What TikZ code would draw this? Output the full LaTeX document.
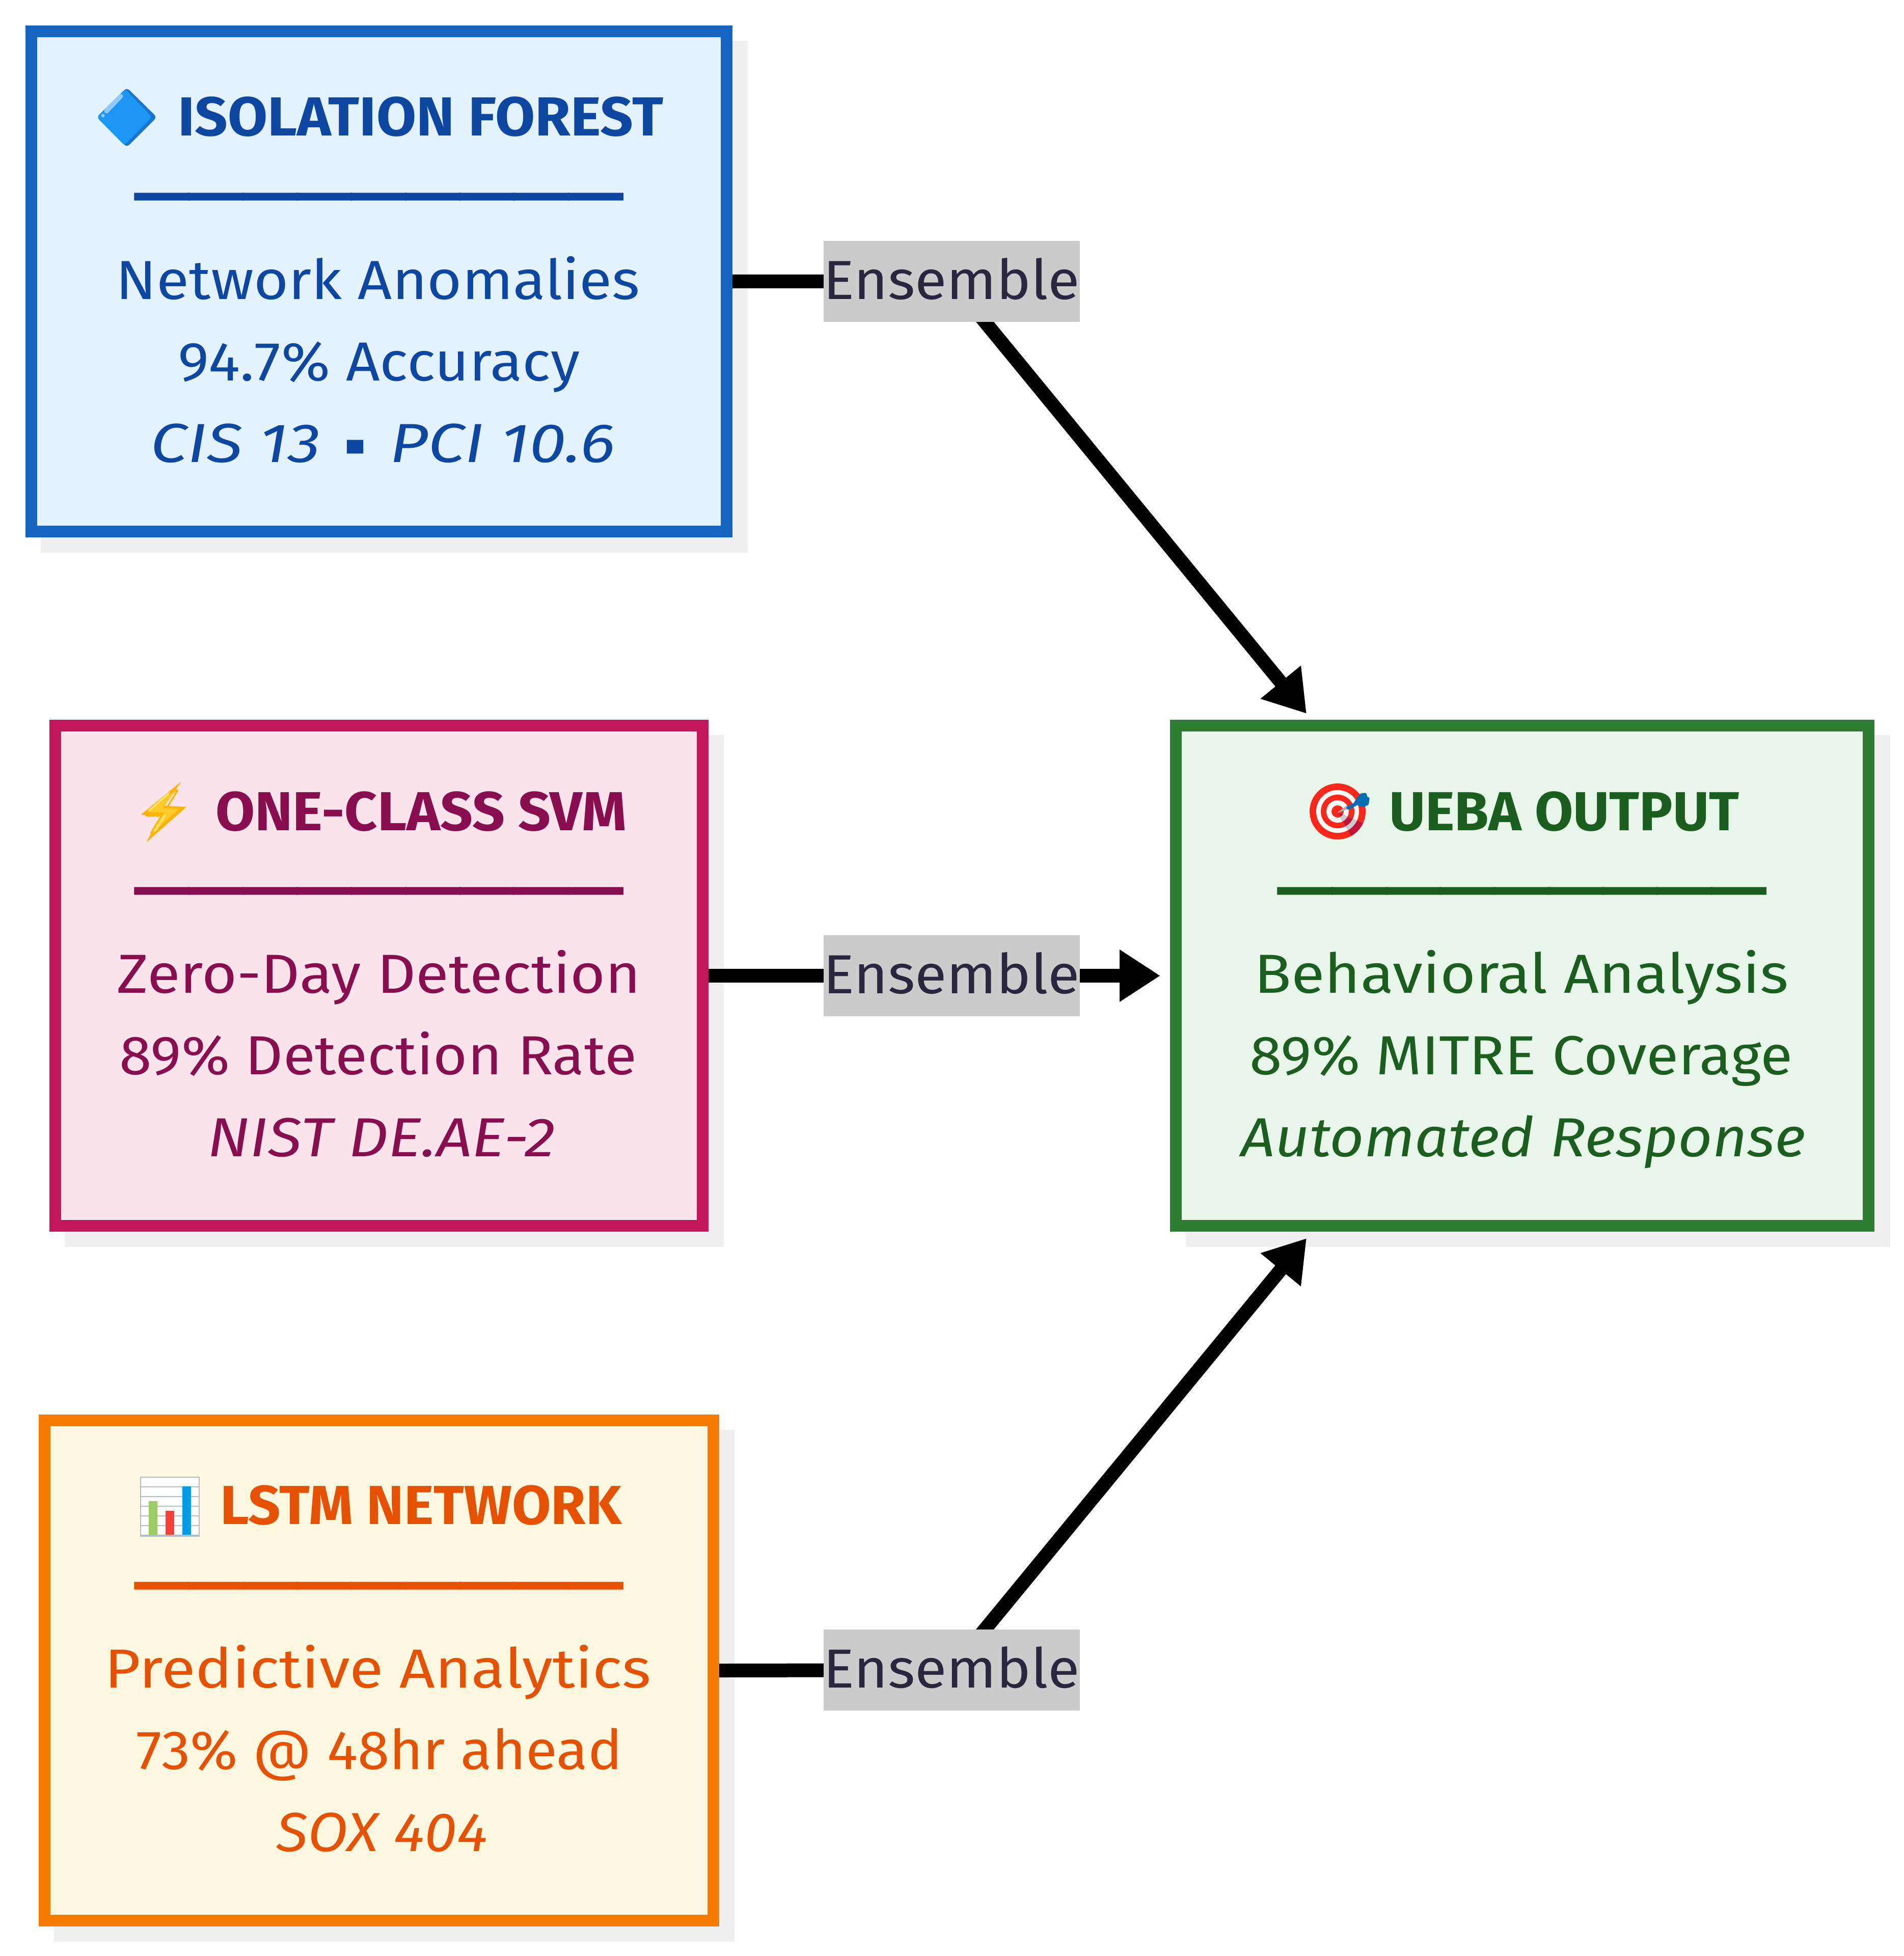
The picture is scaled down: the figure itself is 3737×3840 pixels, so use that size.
\documentclass[tikz,border=0pt]{standalone}
\usepackage{fontspec}
\usepackage{graphicx}
\setmainfont{Fira Sans}
\newfontfamily\emojifont{Noto Emoji}
\newfontfamily\dejafont{DejaVu Sans}
\usetikzlibrary{arrows.meta,backgrounds}
\definecolor{blueS}{HTML}{1565C0}\definecolor{blueF}{HTML}{E3F2FD}\definecolor{blueT}{HTML}{0D47A1}
\definecolor{pinkS}{HTML}{C2185B}\definecolor{pinkF}{HTML}{FCE4EC}\definecolor{pinkT}{HTML}{880E4F}
\definecolor{oranS}{HTML}{F57C00}\definecolor{oranF}{HTML}{FFF8E1}\definecolor{oranT}{HTML}{E65100}
\definecolor{greeS}{HTML}{2E7D32}\definecolor{greeF}{HTML}{E8F5E9}\definecolor{greeT}{HTML}{1B5E20}
\definecolor{shadowC}{HTML}{EFEFEF}\definecolor{labelF}{HTML}{CBCBCB}\definecolor{labelT}{HTML}{2A2640}
\definecolor{diaD}{HTML}{1976D2}\definecolor{diaM}{HTML}{1E96F3}\definecolor{diaL}{HTML}{90CAF9}
\definecolor{boltD}{HTML}{FFB300}\definecolor{boltM}{HTML}{FFCA28}\definecolor{boltL}{HTML}{FFE36B}
\definecolor{gridC}{HTML}{B0BEC5}\definecolor{barG}{HTML}{9CCC65}\definecolor{barR}{HTML}{F44336}\definecolor{barB}{HTML}{039BE5}
\definecolor{tarR}{HTML}{FF261C}\definecolor{tarD}{HTML}{C4123A}\definecolor{tarG}{HTML}{CCCCCC}\definecolor{dartG}{HTML}{B0B0B0}\definecolor{dartB}{HTML}{016EB4}
\newcommand{\fitw}[2]{\resizebox{#1pt}{\height}{#2}}
\newcommand{\sepline}{\resizebox{957pt}{\height}{\dejafont ━━━━━━━━━}}
\tikzset{
  x=1pt,y=-1pt,
  boxnode/.style={draw=#1S,fill=#1F,line width=23pt,rectangle,inner sep=0pt},
  shadownode/.style={fill=shadowC,rectangle,inner sep=0pt},
  txt/.style={anchor=base,inner sep=0pt,font=\fontsize{108}{130}\selectfont},
  ttl/.style={anchor=base,inner sep=0pt,font=\fontsize{108}{130}\selectfont\bfseries},
  sep/.style={anchor=base,inner sep=0pt,font=\fontsize{90}{110}\selectfont},
  emo/.style={inner sep=0pt,font=\fontsize{88}{100}\selectfont\emojifont},
  edgelabel/.style={fill=labelF,text=labelT,inner sep=0pt,minimum width=503pt,minimum height=159pt,text height=80pt,text depth=10pt,font=\fontsize{108}{130}\selectfont},
  conn/.style={line width=27pt,draw=black,-{Triangle[length=80pt,width=97pt]}}
}
\begin{document}
\begin{tikzpicture}
\useasboundingbox (0,0) rectangle (3737,3840);
% boxes
\node[boxnode=blue,minimum width=1365pt,minimum height=982pt] (iso) at (744,552.5) {};
\node[boxnode=pink,minimum width=1271pt,minimum height=982pt] (svm) at (744,1915.5) {};
\node[boxnode=oran,minimum width=1313pt,minimum height=982pt] (lstm) at (744,3279.5) {};
\node[boxnode=gree,minimum width=1360pt,minimum height=982pt] (ueba) at (2988.5,1915.5) {};
% labels
\node[edgelabel] (l1) at (1868,552) {\fitw{503}{Ensemble}};
\node[edgelabel] (l2) at (1868,1915.5) {\fitw{503}{Ensemble}};
\node[edgelabel] (l3) at (1868,3278.5) {\fitw{503}{Ensemble}};
\coordinate (t1) at (2565,1401);
\coordinate (t2) at (2278,1915.5);
\coordinate (t3) at (2565,2431);
\begin{pgfonlayer}{background}
  \node[shadownode,minimum width=1388pt,minimum height=1005pt] (siso) at (774,582.5) {};
  \node[shadownode,minimum width=1294pt,minimum height=1005pt] (ssvm) at (774,1945.5) {};
  \node[shadownode,minimum width=1336pt,minimum height=1005pt] (slstm) at (774,3309.5) {};
  \node[shadownode,minimum width=1383pt,minimum height=1005pt] (sueba) at (3019,1945.5) {};
  \draw[conn] (iso.east) -- (l1.center) -- (t1);
  \draw[conn] (svm.east) -- (l2.center) -- (t2);
  \draw[conn] (lstm.east) -- (l3.center) -- (t3);
\end{pgfonlayer}
% --- diamond icon
\fill[diaD,rounded corners=7pt] (249,172) -- (308,230) -- (249,289) -- (190,230) -- cycle;
\node[emo,text=diaD] (e1) at (249,231) {🔷};
\fill[diaM,rounded corners=6pt] (246,175) -- (298,230) -- (244,285) -- (190,230) -- cycle;
\draw[line width=9pt,line cap=round,draw=diaL] (209,218) -- (237,189);
\fill[diaL] (202,227) circle (3.5);
% --- bolt icon
\fill[boltD,rounded corners=2pt] (356,1534) -- (323,1582) -- (366,1584) -- (287,1654) -- (317,1599) -- (276,1600) -- cycle;
\node[emo,text=boltD] (e2) at (321,1594) {⚡};
\fill[boltM] (346,1550) -- (320,1586) -- (352,1588) -- (296,1638) -- (322,1595) -- (290,1595) -- cycle;
\draw[line width=4pt,line cap=round,draw=boltL] (331,1558) -- (293,1591);
\draw[line width=4pt,line cap=round,draw=boltL] (324,1600) -- (304,1631);
% --- chart icon
\fill[white] (275,2899) rectangle (392,3017);
\node[emo,text=gridC] (e3) at (333,2958) {📊};
\fill[white] (275,2899) rectangle (392,3017);
\draw[draw=gridC,line width=2.5pt] (276,2900) rectangle (391,3016);
\foreach \yy in {2919,2938,2957,2976,2995} \draw[draw=gridC,line width=2.5pt] (276,\yy) -- (391,\yy);
\fill[barG] (292,2947) rectangle (309,3014);
\fill[barR] (325,2966) rectangle (342,3014);
\fill[barB] (358,2918) rectangle (375,3014);
\fill[gridC] (275,3013) rectangle (392,3017);
% --- target icon
\node[emo,text=tarR] (e4) at (2630,1593) {🎯};
\fill[tarR] (2626,1593) circle (55);
\fill[white] (2626,1593) circle (42);
\fill[tarR] (2626,1593) circle (33);
\fill[white] (2626,1593) circle (22);
\fill[tarR] (2626,1593) circle (12);
\begin{scope}
\clip (2626,1595) -- (2680,1618) -- (2655,1645) -- cycle;
\fill[tarD] (2626,1593) circle (55);
\fill[tarG] (2626,1593) circle (42);
\fill[tarD] (2626,1593) circle (33);
\fill[tarG] (2626,1593) circle (22);
\fill[tarD] (2626,1593) circle (12);
\end{scope}
\fill[dartG] (2625,1596) -- (2644,1581) -- (2650,1587) -- cycle;
\draw[line width=7pt,line cap=round,draw=dartB] (2647,1586) -- (2662,1578);
\fill[dartB,rounded corners=3pt] (2657,1577) -- (2670,1558) -- (2682,1556) -- (2685,1566) -- (2689,1565) -- (2687,1580) -- (2675,1585) -- cycle;
% iso text
\begin{scope}[text=blueT]
\node[ttl,anchor=base west] (t1a) at (349,266) {\fitw{953}{ISOLATION FOREST}};
\node[sep] (s1) at (744,417.5) {\sepline};
\node[txt] (t1b) at (742,587) {\fitw{1028}{Network Anomalies}};
\node[txt] (t1c) at (744,747) {\fitw{789}{94.7\% Accuracy}};
\node[txt] (t1d) at (752,907) {\fitw{912}{\itshape CIS 13\kern38pt{\dejafont\itshape\raisebox{16pt}{\fontsize{54}{54}\selectfont ▪}}\kern38pt PCI 10.6}};
\end{scope}
\begin{scope}[text=pinkT]
\node[ttl,anchor=base west] (t2a) at (423,1630) {\fitw{807}{ONE-CLASS SVM}};
\node[sep] (s2) at (744,1780.5) {\sepline};
\node[txt] (t2b) at (744,1949) {\fitw{1028}{Zero-Day Detection}};
\node[txt] (t2c) at (742,2109) {\fitw{1016}{89\% Detection Rate}};
\node[txt] (t2d) at (749,2270) {\fitw{682}{\itshape NIST DE.AE-2}};
\end{scope}
\begin{scope}[text=oranT]
\node[ttl,anchor=base west] (t3a) at (432,2992) {\fitw{788}{LSTM NETWORK}};
\node[sep] (s3) at (744,3144.5) {\sepline};
\node[txt] (t3b) at (742,3313) {\fitw{1073}{Predictive Analytics}};
\node[txt] (t3c) at (745,3473) {\fitw{954}{73\% @ 48hr ahead}};
\node[txt] (t3d) at (750,3634) {\fitw{415}{\itshape SOX 404}};
\end{scope}
\begin{scope}[text=greeT]
\node[ttl,anchor=base west] (t4a) at (2727,1630) {\fitw{687}{UEBA OUTPUT}};
\node[sep] (s4) at (2988.5,1780.5) {\sepline};
\node[txt] (t4b) at (2987,1949) {\fitw{1049}{Behavioral Analysis}};
\node[txt] (t4c) at (2986,2109) {\fitw{1066}{89\% MITRE Coverage}};
\node[txt] (t4d) at (2991,2270) {\fitw{1108}{\itshape Automated Response}};
\end{scope}
\end{tikzpicture}
\end{document}
